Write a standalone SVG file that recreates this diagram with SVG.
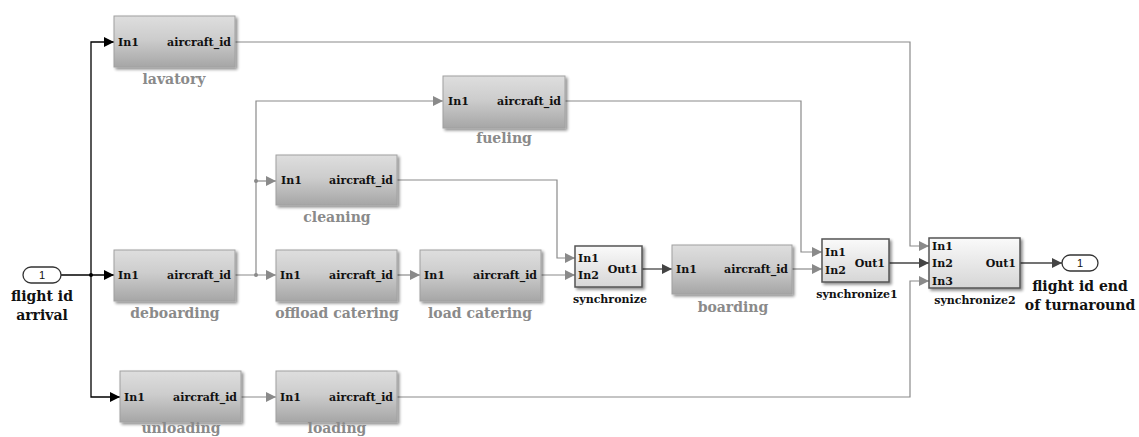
<svg xmlns="http://www.w3.org/2000/svg" width="1139" height="437" viewBox="0 0 1139 437">
<defs>
<linearGradient id="gb" x1="0" y1="0" x2="0" y2="1">
<stop offset="0" stop-color="#dedede"/>
<stop offset="0.45" stop-color="#cdcdcd"/>
<stop offset="1" stop-color="#a6a6a6"/>
</linearGradient>
<linearGradient id="gs" x1="0" y1="0" x2="0" y2="1">
<stop offset="0" stop-color="#fafafa"/>
<stop offset="1" stop-color="#d6d6d6"/>
</linearGradient>
<filter id="sh" x="-10%" y="-10%" width="125%" height="130%">
<feGaussianBlur in="SourceAlpha" stdDeviation="1.5"/>
<feOffset dx="2" dy="2" result="b"/>
<feComponentTransfer><feFuncA type="linear" slope="0.45"/></feComponentTransfer>
<feMerge><feMergeNode/><feMergeNode in="SourceGraphic"/></feMerge>
</filter>
<marker id="ak" viewBox="0 0 10 10" refX="10" refY="5" markerWidth="10" markerHeight="10" markerUnits="userSpaceOnUse" orient="auto"><path d="M0,0 L10,5 L0,10 z" fill="#000"/></marker>
<marker id="ag" viewBox="0 0 10 10" refX="10" refY="5" markerWidth="10" markerHeight="10" markerUnits="userSpaceOnUse" orient="auto"><path d="M0,0 L10,5 L0,10 z" fill="#8a8a8a"/></marker>
<marker id="ad" viewBox="0 0 10 10" refX="10" refY="5" markerWidth="10" markerHeight="10" markerUnits="userSpaceOnUse" orient="auto"><path d="M0,0 L10,5 L0,10 z" fill="#444"/></marker>
</defs>
<style>
.blk{fill:url(#gb);stroke:#a0a0a0;stroke-width:1;filter:url(#sh)}
.syn{fill:url(#gs);stroke:#555;stroke-width:1.5;filter:url(#sh)}
.pt{font-family:"DejaVu Serif","Liberation Serif",serif;font-weight:bold;font-size:11px;fill:#111}
.lb{font-family:"DejaVu Serif","Liberation Serif",serif;font-weight:bold;font-size:14px;fill:#8a8a8a;text-anchor:middle}
.sl{font-family:"DejaVu Serif","Liberation Serif",serif;font-weight:bold;font-size:11px;fill:#111;text-anchor:middle}
.pl{font-family:"DejaVu Serif","Liberation Serif",serif;font-weight:bold;font-size:14px;fill:#111;text-anchor:middle}
.k{fill:none;stroke:#000;stroke-width:1.3}
.g{fill:none;stroke:#8a8a8a;stroke-width:1.2}
.d{fill:none;stroke:#444;stroke-width:1.3}
.port{fill:#fff;stroke:#333;stroke-width:1.3}
.pn{font-family:"Liberation Sans",sans-serif;font-size:11px;fill:#111;text-anchor:middle}
</style>
<g id="connectors">
<path class="k" d="M61,275 H114" marker-end="url(#ak)"/>
<path class="k" d="M91,275 V42 H114" marker-end="url(#ak)"/>
<path class="k" d="M91,275 V397 H120" marker-end="url(#ak)"/>
<circle cx="91" cy="275" r="2" fill="#000"/>
<path class="g" d="M235,275 H276" marker-end="url(#ag)"/>
<path class="g" d="M256,275 V101 H443" marker-end="url(#ag)"/>
<path class="g" d="M256,181 H276" marker-end="url(#ag)"/>
<circle cx="256" cy="275" r="2" fill="#8a8a8a"/>
<circle cx="256" cy="181" r="2" fill="#8a8a8a"/>
<path class="g" d="M397,275 H420" marker-end="url(#ag)"/>
<path class="g" d="M541,275 H575" marker-end="url(#ag)"/>
<path class="g" d="M397,180 H557 V258 H575" marker-end="url(#ag)"/>
<path class="d" d="M642,269 H672" marker-end="url(#ad)"/>
<path class="g" d="M792,269 H822" marker-end="url(#ag)"/>
<path class="g" d="M565,101 H801 V252 H822" marker-end="url(#ag)"/>
<path class="d" d="M889,263 H929" marker-end="url(#ad)"/>
<path class="g" d="M235,42 H910 V246 H929" marker-end="url(#ag)"/>
<path class="g" d="M397,397 H910 V281 H929" marker-end="url(#ag)"/>
<path class="g" d="M241,397 H276" marker-end="url(#ag)"/>
<path class="d" d="M1020,263 H1062" marker-end="url(#ad)"/>
</g>
<g id="in-port">
<rect class="port" x="23" y="267" width="38" height="16" rx="8"/>
<text class="pn" x="42" y="279">1</text>
<text class="pl" x="42" y="301">flight id</text>
<text class="pl" x="42" y="320">arrival</text>
</g>
<g id="lavatory">
<rect class="blk" x="114" y="16" width="121" height="51"/>
<text class="pt" x="118" y="46">In1</text>
<text class="pt" x="231" y="46" text-anchor="end">aircraft_id</text>
<text class="lb" x="174" y="84">lavatory</text>
</g>
<g id="fueling">
<rect class="blk" x="443" y="76" width="122" height="52"/>
<text class="pt" x="448" y="105">In1</text>
<text class="pt" x="561" y="105" text-anchor="end">aircraft_id</text>
<text class="lb" x="504" y="143">fueling</text>
</g>
<g id="cleaning">
<rect class="blk" x="276" y="155" width="121" height="50"/>
<text class="pt" x="281" y="184">In1</text>
<text class="pt" x="393" y="184" text-anchor="end">aircraft_id</text>
<text class="lb" x="337" y="222">cleaning</text>
</g>
<g id="deboarding">
<rect class="blk" x="114" y="250" width="121" height="51"/>
<text class="pt" x="118" y="279">In1</text>
<text class="pt" x="231" y="279" text-anchor="end">aircraft_id</text>
<text class="lb" x="175" y="318">deboarding</text>
</g>
<g id="offload-catering">
<rect class="blk" x="276" y="250" width="121" height="51"/>
<text class="pt" x="280" y="279">In1</text>
<text class="pt" x="393" y="279" text-anchor="end">aircraft_id</text>
<text class="lb" x="337" y="318">offload catering</text>
</g>
<g id="load-catering">
<rect class="blk" x="420" y="250" width="121" height="51"/>
<text class="pt" x="424" y="279">In1</text>
<text class="pt" x="537" y="279" text-anchor="end">aircraft_id</text>
<text class="lb" x="480" y="318">load catering</text>
</g>
<g id="synchronize">
<rect class="syn" x="575" y="246" width="67" height="41"/>
<text class="pt" x="578" y="262">In1</text>
<text class="pt" x="578" y="279">In2</text>
<text class="pt" x="638" y="273" text-anchor="end">Out1</text>
<text class="sl" x="610" y="303">synchronize</text>
</g>
<g id="boarding">
<rect class="blk" x="672" y="245" width="120" height="49"/>
<text class="pt" x="676" y="273">In1</text>
<text class="pt" x="788" y="273" text-anchor="end">aircraft_id</text>
<text class="lb" x="733" y="312">boarding</text>
</g>
<g id="synchronize1">
<rect class="syn" x="822" y="239" width="67" height="43"/>
<text class="pt" x="825" y="256">In1</text>
<text class="pt" x="825" y="274">In2</text>
<text class="pt" x="885" y="267" text-anchor="end">Out1</text>
<text class="sl" x="857" y="298">synchronize1</text>
</g>
<g id="synchronize2">
<rect class="syn" x="929" y="238" width="91" height="50"/>
<text class="pt" x="932" y="250">In1</text>
<text class="pt" x="932" y="267">In2</text>
<text class="pt" x="932" y="285">In3</text>
<text class="pt" x="1016" y="267" text-anchor="end">Out1</text>
<text class="sl" x="975" y="304">synchronize2</text>
</g>
<g id="out-port">
<rect class="port" x="1062" y="255" width="36" height="16" rx="8"/>
<text class="pn" x="1080" y="267">1</text>
<text class="pl" x="1080" y="291">flight id end</text>
<text class="pl" x="1080" y="310">of turnaround</text>
</g>
<g id="unloading">
<rect class="blk" x="120" y="371" width="121" height="51"/>
<text class="pt" x="124" y="401">In1</text>
<text class="pt" x="237" y="401" text-anchor="end">aircraft_id</text>
<text class="lb" x="181" y="433">unloading</text>
</g>
<g id="loading">
<rect class="blk" x="276" y="371" width="121" height="51"/>
<text class="pt" x="280" y="401">In1</text>
<text class="pt" x="393" y="401" text-anchor="end">aircraft_id</text>
<text class="lb" x="337" y="433">loading</text>
</g>
</svg>
